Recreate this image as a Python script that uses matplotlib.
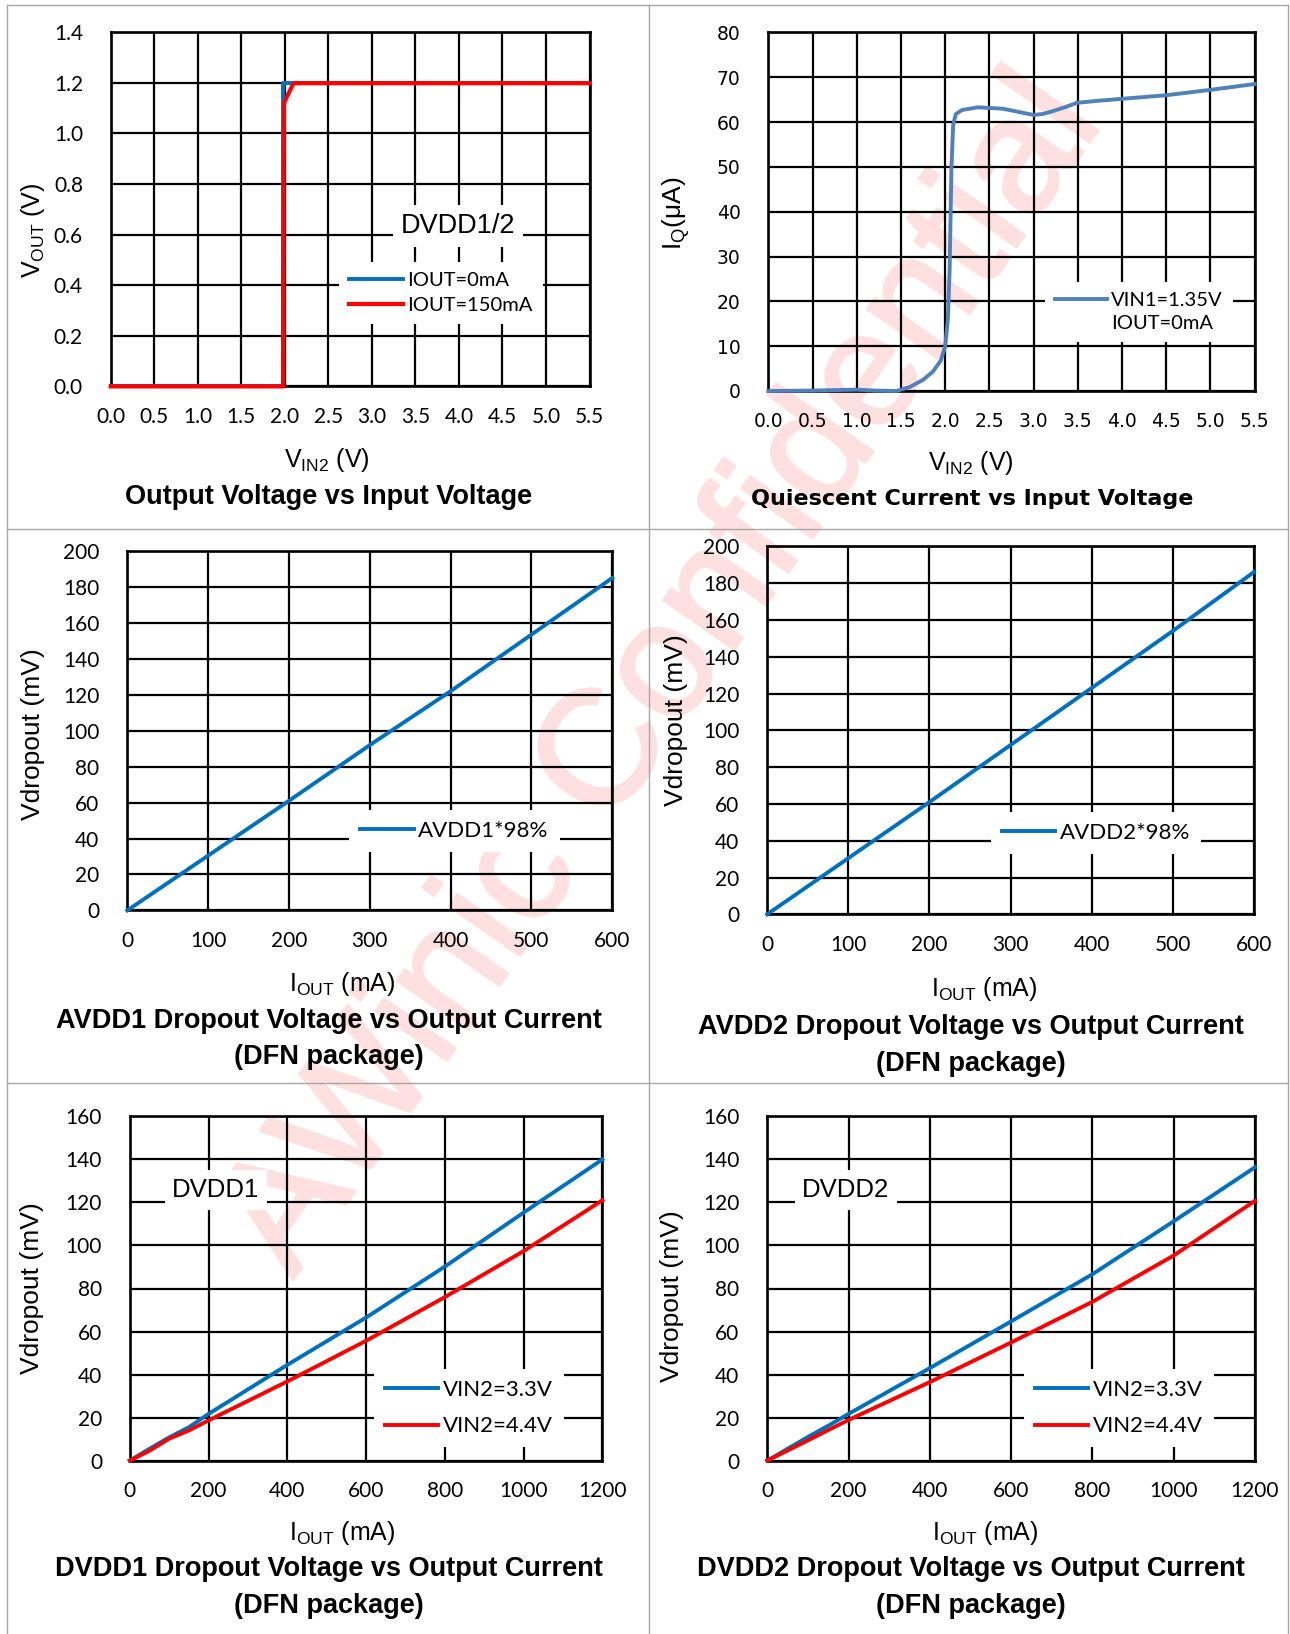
import matplotlib
matplotlib.use("Agg")
import matplotlib.pyplot as plt
import matplotlib.patheffects as pe
from matplotlib.lines import Line2D

# figure size in pixels
W, H = 1290, 1634

# ---- data ----
# output voltage vs input voltage (DVDD1/2)
vin_0ma = [0.0, 1.975, 1.975, 5.5]
vout_0ma = [0.0, 0.0, 1.2, 1.2]
vin_150ma = [0.0, 1.98, 1.99, 2.1, 5.5]
vout_150ma = [0.0, 0.0, 1.12, 1.198, 1.198]

# quiescent current vs input voltage
vin_iq = [0.0, 0.5, 1.0, 1.2, 1.45, 1.6, 1.75, 1.86, 1.95, 2.0, 2.03, 2.05, 2.07,
          2.09, 2.12, 2.19, 2.37, 2.65, 2.85, 3.0, 3.1, 3.21, 3.35, 3.49, 3.75,
          4.0, 4.5, 5.0, 5.5]
iq = [0.0, 0.1, 0.3, 0.1, 0.0, 0.9, 2.5, 4.3, 6.8, 10.0, 16.0, 27.0, 49.5,
      59.4, 61.8, 62.7, 63.3, 63.0, 62.2, 61.6, 61.8, 62.4, 63.3, 64.3, 64.8,
      65.2, 66.0, 67.2, 68.5]

# AVDD dropout
iout_avdd = [0, 100, 200, 300, 400, 500, 600]
avdd1_drop = [0, 30.5, 61, 92, 122, 153.5, 185]
avdd2_drop = [0, 30.5, 61, 92, 123, 154, 186]

# DVDD dropout
iout_dvdd = [0, 50, 100, 150, 200, 400, 600, 800, 1000, 1200]
dvdd1_33 = [0, 5.5, 10.8, 15.5, 21.7, 44.5, 66.5, 90.2, 115.3, 140]
dvdd1_44 = [0, 4.6, 10.2, 14.0, 18.7, 36.8, 55.7, 76.0, 97.4, 121]
dvdd2_33 = [0, 5.5, 11.0, 16.2, 21.7, 43.0, 64.7, 86.6, 111.2, 136.3]
dvdd2_44 = [0, 4.7, 9.4, 14.2, 18.9, 36.5, 54.9, 73.8, 95.3, 120.7]

vin_ticks = [0.0, 0.5, 1.0, 1.5, 2.0, 2.5, 3.0, 3.5, 4.0, 4.5, 5.0, 5.5]

BLUE = "#0070c0"
BLUE2 = "#4f81bd"
RED = "#ff0000"
CAL = "Lato"
ARIAL = "Liberation Sans"
PINK = "#ffe0e0"


def box(l, t, r, b):
    return [l / W, 1 - b / H, (r - l) / W, (b - t) / H]


def px(x, y):
    return x / W, 1 - y / H


def setup(ax, xlim, ylim, xticks, yticks, xfmt, yfmt, font, size, xpad):
    ax.set_facecolor("none")
    ax.set_xlim(xlim)
    ax.set_ylim(ylim)
    ax.set_xticks(xticks)
    ax.set_yticks(yticks)
    ax.set_xticklabels([xfmt.format(v) for v in xticks], family=font, fontsize=size)
    ax.set_yticklabels([yfmt.format(v) for v in yticks], family=font, fontsize=size)
    ax.grid(True, color="black", lw=1.6)
    ax.set_axisbelow(True)
    ax.tick_params(axis="both", length=0)
    ax.tick_params(axis="y", pad=20)
    ax.tick_params(axis="x", pad=xpad)
    for s in ax.spines.values():
        s.set_linewidth(1.9)


def legend(ax, handles, labels, cx, cy, size, hl, spacing):
    leg = ax.legend(handles, labels, loc="center", bbox_to_anchor=px(cx, cy),
                    bbox_transform=fig.transFigure, prop={"family": CAL, "size": size},
                    frameon=True, fancybox=False, framealpha=1, facecolor="white",
                    edgecolor="none", handlelength=hl, handletextpad=0.2,
                    labelspacing=spacing, borderpad=0.5, borderaxespad=0)
    leg.set_zorder(5)
    return leg


def label_box(ax, text, cx, cy, size):
    fig.text(*px(cx, cy), text, ha="center", va="center", family=ARIAL, fontsize=size,
             zorder=6, bbox=dict(boxstyle="square,pad=0.3", fc="white", ec="none"))


fig = plt.figure(figsize=(W / 100, H / 100), dpi=100)
fig.patch.set_facecolor("white")

# watermark, drawn under everything
fig.text(*px(664, 677), "AWinic Confidential", rotation=55, ha="center", va="center",
         family=ARIAL, fontsize=118, color=PINK, zorder=-5,
         path_effects=[pe.Stroke(linewidth=2, foreground=PINK), pe.Normal()])

# table borders
grey = "#a6a6a6"
for seg in [((7, 5), (1288, 5)), ((7, 5), (7, 1634)), ((1288, 5), (1288, 1634)),
            ((649, 5), (649, 1634)), ((7, 529), (1288, 529)), ((7, 1083), (1288, 1083))]:
    (x0, y0), (x1, y1) = seg
    fig.add_artist(Line2D([x0 / W, x1 / W], [1 - y0 / H, 1 - y1 / H],
                          transform=fig.transFigure, color=grey, lw=1))

# ---- panel 1: output voltage vs input voltage ----
ax1 = fig.add_axes(box(110.7, 32.1, 589.5, 386.4))
setup(ax1, (0, 5.5), (0, 1.4), vin_ticks, [0, 0.2, 0.4, 0.6, 0.8, 1.0, 1.2, 1.4],
      "{:.1f}", "{:.1f}", CAL, 15, 15)
l1, = ax1.plot(vin_0ma, vout_0ma, color=BLUE, lw=2.8, clip_on=False, zorder=3)
l2, = ax1.plot(vin_150ma, vout_150ma, color=RED, lw=3, clip_on=False, zorder=3)
legend(ax1, [l1, l2], ["IOUT=0mA", "IOUT=150mA"], 441, 293, 14.5, 2.7, 0.4)
label_box(ax1, "DVDD1/2", 458, 226, 19.5)
fig.text(*px(33, 230), r"$\mathregular{V_{OUT}}$ (V)", rotation=90, ha="center", va="center",
         family=ARIAL, fontsize=18)
fig.text(*px(327, 460), r"$\mathregular{V_{IN2}}$ (V)", ha="center", va="center",
         family=ARIAL, fontsize=18)
fig.text(*px(329, 497), "Output Voltage vs Input Voltage", ha="center", va="center",
         family=ARIAL, fontsize=19.5, fontweight="bold")

# ---- panel 2: quiescent current vs input voltage ----
ax2 = fig.add_axes(box(768.4, 32.5, 1254.6, 391))
setup(ax2, (0, 5.5), (0, 80), vin_ticks, list(range(0, 81, 10)),
      "{:.1f}", "{:d}", "DejaVu Sans", 13.5, 15)
l3, = ax2.plot(vin_iq, iq, color=BLUE2, lw=2.8, clip_on=False, zorder=3)
blank = Line2D([], [], color="none")
legend(ax2, [l3, blank], ["VIN1=1.35V", "IOUT=0mA"], 1139, 312, 14.5, 2.6, 0.25)
fig.text(*px(676, 213), r"$\mathregular{I_Q}$(μA)", rotation=90, ha="center", va="center",
         family=ARIAL, fontsize=19)
fig.text(*px(971, 463), r"$\mathregular{V_{IN2}}$ (V)", ha="center", va="center",
         family=ARIAL, fontsize=18)
fig.text(*px(972, 499), "Quiescent Current vs Input Voltage", ha="center", va="center",
         family="DejaVu Sans", fontsize=16, fontweight="bold")

# ---- panels 3/4: AVDD dropout ----
avdd = [
    (box(127.3, 551, 612.3, 910.4), avdd1_drop, "AVDD1*98%", (454.5, 831),
     (33, 734), (342, 984), 329, (1021, 1057), "AVDD1"),
    (box(767.2, 546.4, 1253.8, 914.3), avdd2_drop, "AVDD2*98%", (1096, 833),
     (676, 720), (984, 989), 971, (1027, 1064), "AVDD2"),
]
for rect, ys, name, lc, ylc, xlc, tx, tys, tag in avdd:
    ax = fig.add_axes(rect)
    setup(ax, (0, 600), (0, 200), iout_avdd, list(range(0, 201, 20)),
          "{:d}", "{:d}", CAL, 15, 15)
    ln, = ax.plot(iout_avdd, ys, color=BLUE, lw=2.8, clip_on=False, zorder=3)
    legend(ax, [ln], [name], lc[0], lc[1], 16, 2.4, 0.5)
    fig.text(*px(*ylc), "Vdropout (mV)", rotation=90, ha="center", va="center",
             family=ARIAL, fontsize=19)
    fig.text(*px(*xlc), r"$\mathregular{I_{OUT}}$ (mA)", ha="center", va="center",
             family=ARIAL, fontsize=18)
    fig.text(*px(tx, tys[0]), tag + " Dropout Voltage vs Output Current", ha="center",
             va="center", family=ARIAL, fontsize=19.5, fontweight="bold")
    fig.text(*px(tx, tys[1]), "(DFN package)", ha="center", va="center",
             family=ARIAL, fontsize=19.5, fontweight="bold")

# ---- panels 5/6: DVDD dropout ----
dvdd = [
    (box(129.8, 1116.4, 602.4, 1460.6), dvdd1_33, dvdd1_44, "DVDD1", (216, 1190),
     (469, 1408), (32, 1288), (342, 1533), 329),
    (box(767.3, 1116.4, 1254.8, 1460.6), dvdd2_33, dvdd2_44, "DVDD2", (846, 1190),
     (1119, 1408), (672, 1296), (985, 1533), 971),
]
for rect, y33, y44, tag, tagc, lc, ylc, xlc, tx in dvdd:
    ax = fig.add_axes(rect)
    setup(ax, (0, 1200), (0, 160), [0, 200, 400, 600, 800, 1000, 1200],
          list(range(0, 161, 20)), "{:d}", "{:d}", CAL, 15, 15)
    la, = ax.plot(iout_dvdd, y33, color=BLUE, lw=2.8, clip_on=False, zorder=3)
    lb, = ax.plot(iout_dvdd, y44, color=RED, lw=2.8, clip_on=False, zorder=3)
    legend(ax, [la, lb], ["VIN2=3.3V", "VIN2=4.4V"], lc[0], lc[1], 16, 2.4, 0.75)
    label_box(ax, tag, tagc[0], tagc[1], 18.5)
    fig.text(*px(*ylc), "Vdropout (mV)", rotation=90, ha="center", va="center",
             family=ARIAL, fontsize=19)
    fig.text(*px(*xlc), r"$\mathregular{I_{OUT}}$ (mA)", ha="center", va="center",
             family=ARIAL, fontsize=18)
    fig.text(*px(tx, 1569), tag + " Dropout Voltage vs Output Current", ha="center",
             va="center", family=ARIAL, fontsize=19.5, fontweight="bold")
    fig.text(*px(tx, 1606), "(DFN package)", ha="center", va="center",
             family=ARIAL, fontsize=19.5, fontweight="bold")

fig.savefig("out.png", dpi=100)
